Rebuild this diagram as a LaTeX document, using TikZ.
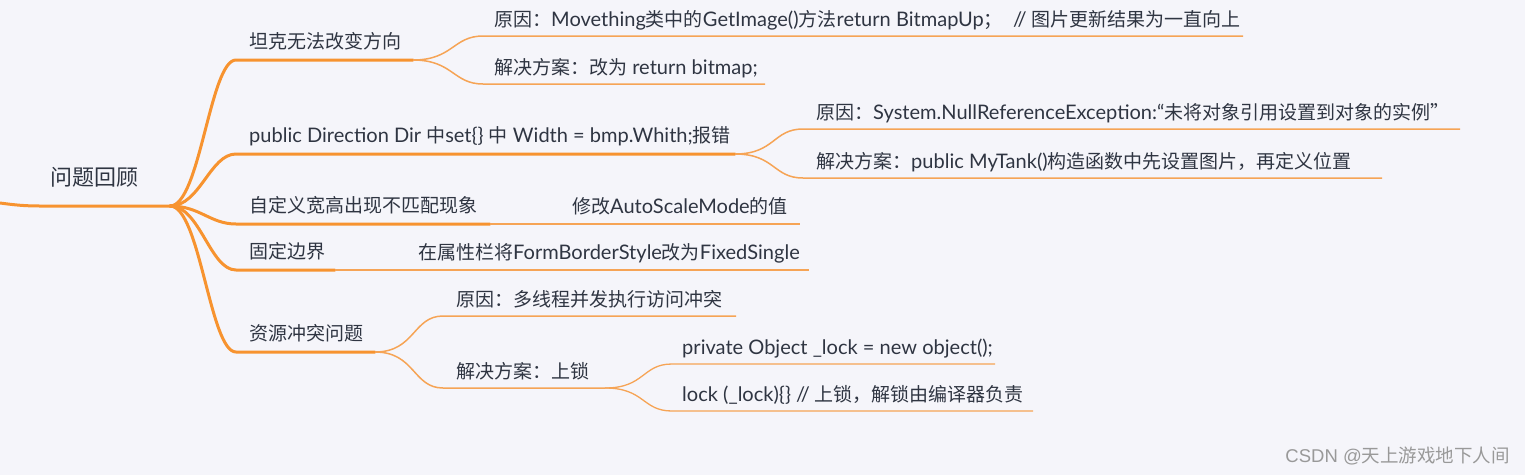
\documentclass[tikz,border=0pt]{standalone}
\usepackage{fontspec}
\setmainfont{Lato}[Scale=1.055]
\newfontfamily\cjk{Noto Sans CJK SC}
\newfontfamily\wmfont{Liberation Sans}
\newcommand\zh[1]{{\cjk #1}}
\definecolor{bg}{HTML}{F5F5FA}
\definecolor{mainline}{HTML}{F7932F}
\definecolor{subline}{HTML}{F6A455}
\definecolor{txt}{HTML}{2F3542}
\definecolor{wm}{HTML}{999999}
\begin{document}
\begin{tikzpicture}[x=1pt,y=-1pt,
  lbl/.style={anchor=base west, inner sep=0pt, text=txt, font=\fontsize{19}{22}\selectfont},
  rootlbl/.style={anchor=base, inner sep=0pt, text=txt, font=\fontsize{22}{26}\selectfont},
  mainconn/.style={draw=mainline, line width=3pt, line cap=round},
  subconn/.style={draw=subline, line width=1.5pt},
  leafconn/.style={draw=subline, line width=1.3pt},
  wmark/.style={anchor=base east, inner sep=0pt, text=wm, font=\wmfont\fontsize{18.5}{22}\selectfont}]
\useasboundingbox[fill=bg] (0,0) rectangle (1525,475);
% root
\node[rootlbl] (root) at (94,185) {\zh{问题回顾}};
\coordinate (r0) at (0,203);
\coordinate (r1) at (170,206);
\draw[mainconn] (r0) .. controls (15,205) and (25,206) .. (40,206) -- (r1);
% branch 1
\coordinate (b1s) at (236,60); \coordinate (b1e) at (413,60);
\node[lbl] (b1) at (249,48) {\zh{坦克无法改变方向}};
\draw[mainconn] (r1) .. controls ([xshift=30pt]r1) and ([xshift=-26pt]b1s) .. (b1s) -- (b1e);
\coordinate (c11s) at (483,36); \coordinate (c11e) at (1243,36);
\node[lbl] (c11) at (494,26) {\zh{原因：}Movething\zh{类中的}GetImage()\zh{方法}return BitmapUp\zh{；}\ \ // \zh{图片更新结果为一直向上}};
\draw[subconn] (b1e) .. controls ([xshift=40pt]b1e) and ([xshift=-30pt]c11s) .. (c11s) -- (c11e);
\coordinate (c12s) at (483,84); \coordinate (c12e) at (765,84);
\node[lbl] (c12) at (494,74) {\zh{解决方案：改为} return bitmap;};
\draw[subconn] (b1e) .. controls ([xshift=40pt]b1e) and ([xshift=-30pt]c12s) .. (c12s) -- (c12e);
% branch 2
\coordinate (b2s) at (236,154); \coordinate (b2e) at (735,154);
\node[lbl] (b2) at (249,142) {public Direction Dir \zh{中}set\{\} \zh{中} Width = bmp.Whith;\zh{报错}};
\draw[mainconn] (r1) .. controls ([xshift=30pt]r1) and ([xshift=-26pt]b2s) .. (b2s) -- (b2e);
\coordinate (c21s) at (803,129); \coordinate (c21e) at (1460,129);
\node[lbl] (c21) at (816,119) {\zh{原因：}System.NullReferenceException:“\zh{未将对象引用设置到对象的实例”}};
\draw[subconn] (b2e) .. controls ([xshift=40pt]b2e) and ([xshift=-30pt]c21s) .. (c21s) -- (c21e);
\coordinate (c22s) at (803,178); \coordinate (c22e) at (1382,178);
\node[lbl] (c22) at (816,168) {\zh{解决方案：}public MyTank()\zh{构造函数中先设置图片，再定义位置}};
\draw[subconn] (b2e) .. controls ([xshift=40pt]b2e) and ([xshift=-30pt]c22s) .. (c22s) -- (c22e);
% branch 3
\coordinate (b3s) at (236,224); \coordinate (b3e) at (490,224);
\node[lbl] (b3) at (249,212) {\zh{自定义宽高出现不匹配现象}};
\draw[mainconn] (r1) .. controls ([xshift=30pt]r1) and ([xshift=-26pt]b3s) .. (b3s) -- (b3e);
\coordinate (c3e) at (800,224);
\node[lbl] (c3) at (572,213) {\zh{修改}AutoScaleMode\zh{的值}};
\draw[subconn] (b3e) -- (c3e);
% branch 4
\coordinate (b4s) at (236,270); \coordinate (b4e) at (335,270);
\node[lbl] (b4) at (249,258) {\zh{固定边界}};
\draw[mainconn] (r1) .. controls ([xshift=30pt]r1) and ([xshift=-26pt]b4s) .. (b4s) -- (b4e);
\coordinate (c4e) at (809,270);
\node[lbl] (c4) at (418,259) {\zh{在属性栏将}FormBorderStyle\zh{改为}FixedSingle};
\draw[subconn] (b4e) -- (c4e);
% branch 5
\coordinate (b5s) at (236,352); \coordinate (b5e) at (375,352);
\node[lbl] (b5) at (249,340) {\zh{资源冲突问题}};
\draw[mainconn] (r1) .. controls ([xshift=30pt]r1) and ([xshift=-26pt]b5s) .. (b5s) -- (b5e);
\coordinate (c51s) at (443,316); \coordinate (c51e) at (736,316);
\node[lbl] (c51) at (456,306) {\zh{原因：多线程并发执行访问冲突}};
\draw[subconn] (b5e) .. controls ([xshift=40pt]b5e) and ([xshift=-30pt]c51s) .. (c51s) -- (c51e);
\coordinate (c52s) at (443,388); \coordinate (c52e) at (605,388);
\node[lbl] (c52) at (456,378) {\zh{解决方案：上锁}};
\draw[subconn] (b5e) .. controls ([xshift=40pt]b5e) and ([xshift=-30pt]c52s) .. (c52s) -- (c52e);
\coordinate (g1s) at (672,364); \coordinate (g1e) at (995,364);
\node[lbl] (g1) at (682,354) {private Object \_lock = new object();};
\draw[leafconn] (c52e) .. controls ([xshift=40pt]c52e) and ([xshift=-30pt]g1s) .. (g1s) -- (g1e);
\coordinate (g2s) at (672,411); \coordinate (g2e) at (1033,411);
\node[lbl] (g2) at (682,401) {lock (\_lock)\{\} // \zh{上锁，解锁由编译器负责}};
\draw[leafconn] (c52e) .. controls ([xshift=40pt]c52e) and ([xshift=-30pt]g2s) .. (g2s) -- (g2e);
% watermark
\node[wmark] (wm) at (1510,462) {CSDN @\zh{天上游戏地下人间}};
\end{tikzpicture}
\end{document}
